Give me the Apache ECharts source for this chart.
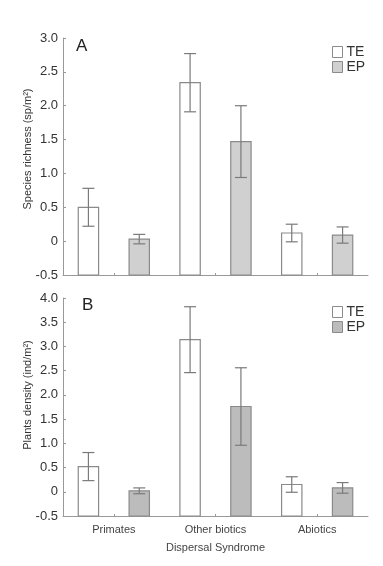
<!DOCTYPE html>
<html><head><meta charset="utf-8">
<script src="https://cdn.jsdelivr.net/npm/echarts@6/dist/echarts.min.js"></script>
<style>html,body{margin:0;padding:0;background:#fff}#c{width:383px;height:566px}</style>
</head><body><div id="c"></div>
<script>
var categories = ['Primates', 'Other biotics', 'Abiotics'];
var richTE = [0.50, 2.34, 0.12];
var richTEerr = [0.28, 0.43, 0.13];
var richEP = [0.03, 1.47, 0.09];
var richEPerr = [0.07, 0.53, 0.12];
var densTE = [0.52, 3.14, 0.15];
var densTEerr = [0.29, 0.68, 0.16];
var densEP = [0.02, 1.76, 0.08];
var densEPerr = [0.06, 0.80, 0.11];
var seriesNames = ['TE', 'EP'];
var yMin = -0.5;

var FONT = 'Liberation Sans';
var EDGE = '#8a8a8a';
var ERR = '#7a7a7a';

function makeSeries(name, vals, errs, axisIdx, side, fill) {
  var data = vals.map(function (v, i) { return [i, v, errs[i]]; });
  return {
    type: 'custom', name: name, xAxisIndex: axisIdx, yAxisIndex: axisIdx,
    itemStyle: { color: fill, borderColor: EDGE, borderWidth: 1 },
    data: data,
    renderItem: function (params, api) {
      var i = api.value(0), v = api.value(1), e = api.value(2);
      var band = api.size([1, 0])[0];
      var c = api.coord([i, v]);
      var x = c[0] + side * band * 0.25;
      var bw = band * 0.2;
      var base = api.coord([i, yMin])[1];
      var top = c[1];
      var eTop = api.coord([i, v + e])[1];
      var eBot = api.coord([i, v - e])[1];
      var cap = 6;
      return {
        type: 'group', children: [
          { type: 'rect', shape: { x: x - bw / 2, y: top, width: bw, height: base - top },
            style: { fill: fill, stroke: EDGE, lineWidth: 1.2 } },
          { type: 'line', shape: { x1: x, y1: eTop, x2: x, y2: eBot }, style: { stroke: ERR, lineWidth: 1.2 } },
          { type: 'line', shape: { x1: x - cap, y1: eTop, x2: x + cap, y2: eTop }, style: { stroke: ERR, lineWidth: 1.2 } },
          { type: 'line', shape: { x1: x - cap, y1: eBot, x2: x + cap, y2: eBot }, style: { stroke: ERR, lineWidth: 1.2 } }
        ]
      };
    }
  };
}

function yAx(idx, max) {
  return {
    type: 'value', gridIndex: idx, min: yMin, max: max, interval: 0.5,
    splitLine: { show: false },
    axisLine: { show: true, lineStyle: { color: '#999', width: 1 } },
    axisTick: { show: true, inside: true, length: 3, lineStyle: { color: '#999' } },
    axisLabel: { color: '#333', fontSize: 13, fontFamily: FONT, margin: 5,
      formatter: function (v) { return v === 0 ? '0' : v.toFixed(1); } }
  };
}
function xAx(idx, showLabels) {
  var a = {
    type: 'category', gridIndex: idx, data: categories,
    axisLine: { show: true, onZero: false, lineStyle: { color: '#999', width: 1 } },
    axisTick: { show: true, inside: true, alignWithLabel: true, length: 2, lineStyle: { color: '#999' } },
    axisLabel: { show: showLabels, color: '#444', fontSize: 11, fontFamily: FONT, margin: 8 }
  };
  if (showLabels) {
    a.name = 'Dispersal Syndrome';
    a.nameLocation = 'middle';
    a.nameGap = 26;
    a.nameTextStyle = { color: '#444', fontSize: 11, fontFamily: FONT };
  }
  return a;
}
function legend(top, teFill, epFill) {
  return {
    orient: 'vertical', left: 332, top: top, padding: 0, itemWidth: 10, itemHeight: 11, itemGap: 1,
    icon: 'rect', selectedMode: false,
    textStyle: { fontSize: 14, fontFamily: FONT, color: '#333', padding: [0, 0, 0, -1], lineHeight: 12 },
    data: [
      { name: seriesNames[0], itemStyle: { color: teFill, borderColor: EDGE, borderWidth: 1 } },
      { name: seriesNames[1], itemStyle: { color: epFill, borderColor: EDGE, borderWidth: 1 } }
    ]
  };
}

var chart = echarts.init(document.getElementById('c'));
chart.setOption({
  animation: false,
  backgroundColor: '#fff',
  grid: [
    { left: 63, right: 15, top: 38, height: 237 },
    { left: 63, right: 15, top: 298, height: 218 }
  ],
  xAxis: [xAx(0, false), xAx(1, true)],
  yAxis: [yAx(0, 3.0), yAx(1, 4.0)],
  legend: [legend(45, '#ffffff', '#d0d0d0'), legend(305, '#ffffff', '#bcbcbc')],
  graphic: [
    { type: 'text', left: 76, top: 38, style: { text: 'A', fontSize: 17, fontFamily: FONT, fill: '#222' } },
    { type: 'text', left: 82, top: 297, style: { text: 'B', fontSize: 17, fontFamily: FONT, fill: '#222' } },
    { type: 'text', x: 28, y: 149, rotation: Math.PI / 2,
      style: { text: 'Species richness (sp/m²)', fontSize: 11, fontFamily: FONT, fill: '#333', align: 'center', verticalAlign: 'middle' } },
    { type: 'text', x: 28, y: 395, rotation: Math.PI / 2,
      style: { text: 'Plants density (ind/m²)', fontSize: 11, fontFamily: FONT, fill: '#333', align: 'center', verticalAlign: 'middle' } }
  ],
  series: [
    makeSeries(seriesNames[0], richTE, richTEerr, 0, -1, '#ffffff'),
    makeSeries(seriesNames[1], richEP, richEPerr, 0, 1, '#d0d0d0'),
    makeSeries(seriesNames[0], densTE, densTEerr, 1, -1, '#ffffff'),
    makeSeries(seriesNames[1], densEP, densEPerr, 1, 1, '#bcbcbc')
  ]
});
</script></body></html>
